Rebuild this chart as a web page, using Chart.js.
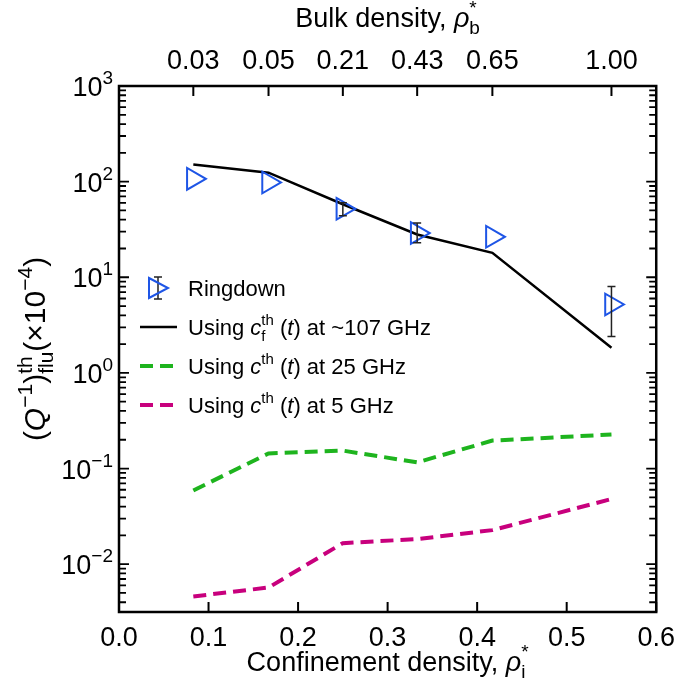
<!DOCTYPE html>
<html lang="en">
<head>
  <meta charset="UTF-8" />
  <title>Q-1 flu vs density</title>
  <style>
    body { margin: 0; background: #fff; }
    canvas { display: block; }
  </style>
</head>
<body>
  <canvas id="myChart" width="685" height="697"></canvas>

  <script src="https://cdn.jsdelivr.net/npm/chart.js"></script>
  <script type="text/javascript">
    // confinement density (bottom axis) and matching bulk density labels (top axis)
    const confDensity = [0.083, 0.167, 0.25, 0.333, 0.417, 0.55];
    const bulkLabels = ['0.03', '0.05', '0.21', '0.43', '0.65', '1.00'];
    const xTicks = [0, 0.1, 0.2, 0.3, 0.4, 0.5, 0.6];
    const yDecades = [-2, -1, 0, 1, 2, 3];

    // (Q^-1)^th_flu in units of 1e-4
    const ringdown = [107, 98, 52, 29, 26.5, 5.2];
    const ringErrLow = [null, null, 44, 23, null, 2.4];
    const ringErrHigh = [null, null, 60, 37, null, 8.0];
    const fit107 = [151, 124, 58, 28, 18, 1.83];
    const fit25 = [0.059, 0.144, 0.154, 0.116, 0.196, 0.227];
    const fit5 = [0.0046, 0.0057, 0.0166, 0.0183, 0.0227, 0.048];

    const FONT = '"Liberation Sans", Arial, Helvetica, sans-serif';
    const BLUE = 'rgb(30, 85, 230)';
    const GREEN = 'rgb(30, 180, 30)';
    const MAGENTA = 'rgb(200, 0, 125)';

    const pts = (ys) => confDensity.map((x, i) => ({ x: x, y: ys[i] }));

    // draws a list of text pieces; {t, it, s, dy, hold}; returns width
    function textRuns(ctx, x, y, parts, base, dry) {
      let cx = x, held = 0;
      for (const p of parts) {
        ctx.font = (p.it ? 'italic ' : '') + (p.s || base) + 'px ' + FONT;
        const w = ctx.measureText(p.t).width;
        if (!dry) ctx.fillText(p.t, cx, y + (p.dy || 0));
        if (p.hold) { held = w; continue; }
        cx += Math.max(w, held);
        held = 0;
      }
      return cx - x;
    }

    const decorations = {
      id: 'decorations',
      afterDatasetsDraw(chart) {
        const ctx = chart.ctx;
        const a = chart.chartArea;
        const xs = chart.scales.x, ys = chart.scales.y;
        ctx.save();

        // error bars
        ctx.strokeStyle = '#222';
        ctx.lineWidth = 1.5;
        confDensity.forEach((x, i) => {
          if (ringErrLow[i] == null) return;
          const px = xs.getPixelForValue(x);
          const y1 = ys.getPixelForValue(ringErrLow[i]);
          const y2 = ys.getPixelForValue(ringErrHigh[i]);
          ctx.beginPath();
          ctx.moveTo(px, y1); ctx.lineTo(px, y2);
          ctx.moveTo(px - 4, y1); ctx.lineTo(px + 4, y1);
          ctx.moveTo(px - 4, y2); ctx.lineTo(px + 4, y2);
          ctx.stroke();
        });

        // frame
        ctx.strokeStyle = '#000';
        ctx.lineWidth = 2.5;
        ctx.strokeRect(a.left, a.top, a.right - a.left, a.bottom - a.top);

        // inward ticks
        ctx.lineWidth = 2;
        ctx.beginPath();
        xTicks.forEach(v => {
          const px = xs.getPixelForValue(v);
          ctx.moveTo(px, a.bottom); ctx.lineTo(px, a.bottom - 10);
        });
        confDensity.forEach(v => {
          const px = xs.getPixelForValue(v);
          ctx.moveTo(px, a.top); ctx.lineTo(px, a.top + 10);
        });
        ctx.stroke();
        ctx.beginPath();
        for (let n = -3; n <= 3; n++) {
          for (let k = 1; k <= 9; k++) {
            const v = k * Math.pow(10, n);
            if (v < ys.min * 0.999 || v > ys.max * 1.001) continue;
            const py = ys.getPixelForValue(v);
            const len = k === 1 ? 10 : 7;
            ctx.moveTo(a.left, py); ctx.lineTo(a.left + len, py);
            ctx.moveTo(a.right, py); ctx.lineTo(a.right - len, py);
          }
        }
        ctx.lineWidth = 1.8;
        ctx.stroke();

        // y tick labels with superscripts
        ctx.fillStyle = '#000';
        ctx.textBaseline = 'alphabetic';
        ctx.textAlign = 'left';
        yDecades.forEach(n => {
          const py = ys.getPixelForValue(Math.pow(10, n));
          const parts = [{ t: '10' }, { t: n < 0 ? '\u2212' + (-n) : String(n), s: 19, dy: -12 }];
          const w = textRuns(ctx, 0, 0, parts, 27, true);
          textRuns(ctx, 113 - w, py + 10, parts, 27);
        });

        // bottom title
        const bt = [{ t: 'Confinement density, ' }, { t: '\u03c1', it: true },
          { t: '*', s: 19, dy: -13, hold: true }, { t: 'i', s: 19, dy: 7 }];
        let w = textRuns(ctx, 0, 0, bt, 27, true);
        const cx = (a.left + a.right) / 2;
        textRuns(ctx, cx - w / 2, 671, bt, 27);

        // top title
        const tt = [{ t: 'Bulk density, ' }, { t: '\u03c1', it: true },
          { t: '*', s: 19, dy: -13, hold: true }, { t: 'b', s: 19, dy: 7 }];
        w = textRuns(ctx, 0, 0, tt, 27, true);
        textRuns(ctx, cx - w / 2, 27, tt, 27);

        // y title (rotated)
        const yt = [{ t: '(' }, { t: 'Q', it: true }, { t: '\u22121', s: 21, dy: -13 }, { t: ')' },
          { t: 'th', s: 21, dy: -13, hold: true }, { t: 'flu', s: 21, dy: 8 },
          { t: '(\u00d710' }, { t: '\u22124', s: 21, dy: -13 }, { t: ')' }];
        w = textRuns(ctx, 0, 0, yt, 30, true);
        ctx.save();
        ctx.translate(45, (a.top + a.bottom) / 2);
        ctx.rotate(-Math.PI / 2);
        textRuns(ctx, -w / 2, 0, yt, 30);
        ctx.restore();

        // legend
        const lx = 140, tx = 188;
        // ringdown glyph
        const gx = 158, gy = 288;
        ctx.strokeStyle = '#222'; ctx.lineWidth = 1.5;
        ctx.beginPath();
        ctx.moveTo(gx, gy - 11); ctx.lineTo(gx, gy + 11);
        ctx.moveTo(gx - 4, gy - 11); ctx.lineTo(gx + 4, gy - 11);
        ctx.moveTo(gx - 4, gy + 11); ctx.lineTo(gx + 4, gy + 11);
        ctx.stroke();
        ctx.strokeStyle = BLUE; ctx.lineWidth = 2;
        ctx.beginPath();
        ctx.moveTo(gx - 9, gy - 10); ctx.lineTo(gx + 10, gy); ctx.lineTo(gx - 9, gy + 10);
        ctx.closePath(); ctx.stroke();

        const rows = [
          { y: 327, color: '#000', dash: [], lw: 2.5,
            parts: [{ t: 'Using ' }, { t: 'c', it: true }, { t: 'th', s: 15, dy: -10, hold: true },
              { t: 'f', s: 15, dy: 6 }, { t: ' (' }, { t: 't', it: true }, { t: ') at ~107 GHz' }] },
          { y: 366, color: GREEN, dash: [13, 7], lw: 4,
            parts: [{ t: 'Using ' }, { t: 'c', it: true }, { t: 'th', s: 15, dy: -10 },
              { t: ' (' }, { t: 't', it: true }, { t: ') at 25 GHz' }] },
          { y: 405, color: MAGENTA, dash: [13, 7], lw: 4,
            parts: [{ t: 'Using ' }, { t: 'c', it: true }, { t: 'th', s: 15, dy: -10 },
              { t: ' (' }, { t: 't', it: true }, { t: ') at 5 GHz' }] }
        ];
        ctx.fillStyle = '#000';
        textRuns(ctx, tx, gy + 8, [{ t: 'Ringdown' }], 22);
        rows.forEach(r => {
          ctx.strokeStyle = r.color; ctx.lineWidth = r.lw; ctx.setLineDash(r.dash);
          ctx.beginPath(); ctx.moveTo(lx, r.y); ctx.lineTo(lx + 37, r.y); ctx.stroke();
          ctx.setLineDash([]);
          textRuns(ctx, tx, r.y + 8, r.parts, 22);
        });

        ctx.restore();
      }
    };

    new Chart(document.getElementById('myChart'), {
      type: 'scatter',
      data: {
        datasets: [
          {
            label: 'Ringdown',
            data: pts(ringdown),
            showLine: false,
            pointStyle: 'triangle',
            rotation: 90,
            pointRadius: 12.5,
            pointHoverRadius: 12.5,
            borderWidth: 2,
            borderColor: BLUE,
            backgroundColor: 'rgba(0,0,0,0)'
          },
          {
            label: 'Using c_f^th (t) at ~107 GHz',
            data: pts(fit107),
            showLine: true,
            borderColor: '#000',
            borderWidth: 2.5,
            pointRadius: 0
          },
          {
            label: 'Using c^th (t) at 25 GHz',
            data: pts(fit25),
            showLine: true,
            borderColor: GREEN,
            borderWidth: 4,
            borderDash: [13, 7],
            pointRadius: 0
          },
          {
            label: 'Using c^th (t) at 5 GHz',
            data: pts(fit5),
            showLine: true,
            borderColor: MAGENTA,
            borderWidth: 4,
            borderDash: [13, 7],
            pointRadius: 0
          }
        ]
      },
      options: {
        responsive: false,
        animation: false,
        layout: { padding: { left: 0, right: 19, top: 0, bottom: 0 } },
        plugins: { legend: { display: false }, tooltip: { enabled: false } },
        scales: {
          x: {
            type: 'linear', position: 'bottom', min: 0, max: 0.6,
            afterBuildTicks: (axis) => { axis.ticks = xTicks.map(v => ({ value: v })); },
            afterFit: (axis) => { axis.height = 85; },
            grid: { display: false, drawTicks: false },
            border: { display: false },
            ticks: {
              padding: 10, maxRotation: 0, autoSkip: false, color: '#000',
              font: { size: 27, family: FONT },
              callback: (v) => v.toFixed(1)
            }
          },
          x2: {
            type: 'linear', position: 'top', min: 0, max: 0.6,
            afterBuildTicks: (axis) => { axis.ticks = confDensity.map(v => ({ value: v })); },
            afterFit: (axis) => { axis.height = 86; },
            grid: { display: false, drawTicks: false },
            border: { display: false },
            ticks: {
              padding: 8, maxRotation: 0, autoSkip: false, color: '#000',
              font: { size: 27, family: FONT },
              callback: (v, i) => bulkLabels[i]
            }
          },
          y: {
            type: 'logarithmic', min: Math.pow(10, -2.5), max: 1000,
            afterFit: (axis) => { axis.width = 119; },
            grid: { display: false, drawTicks: false },
            border: { display: false },
            ticks: { display: false }
          }
        }
      },
      plugins: [decorations]
    });
  </script>
</body>
</html>
